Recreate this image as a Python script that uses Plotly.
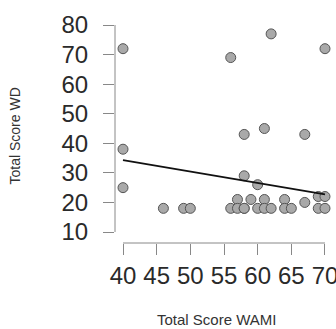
import plotly.graph_objects as go

# Data
wami = [40, 40, 40, 46, 49, 50, 56, 56, 57, 57, 58, 58, 58, 58, 59, 60, 60, 61, 61, 61,
        62, 62, 64, 64, 65, 67, 67, 69, 69, 70, 70, 70]
wd = [72, 38, 25, 18, 18, 18, 69, 18, 21, 18, 43, 29, 18, 18, 21, 26, 18, 45, 21, 18,
      77, 18, 21, 18, 18, 43, 20, 22, 18, 72, 22, 18]
fit_x = [40, 70]
fit_y = [34.3, 22.7]
x_ticks = [40, 45, 50, 55, 60, 65, 70]
y_ticks = [10, 20, 30, 40, 50, 60, 70, 80]

FONT = "Liberation Sans, Arial, sans-serif"

fig = go.Figure()
fig.add_trace(go.Scatter(
    x=wami, y=wd, mode="markers", cliponaxis=False,
    marker=dict(size=10, color="#a9a9a9", line=dict(color="#555555", width=1)),
    showlegend=False, hoverinfo="skip"))
fig.add_trace(go.Scatter(
    x=fit_x, y=fit_y, mode="lines", cliponaxis=False,
    line=dict(color="#111111", width=1.8),
    showlegend=False, hoverinfo="skip"))

axis_col = "#888888"
# detached R-style axis lines
fig.add_shape(type="line", xref="paper", yref="y", x0=0, x1=0,
              y0=min(y_ticks), y1=max(y_ticks), line=dict(color=axis_col, width=1))
fig.add_shape(type="line", xref="x", yref="paper", x0=min(x_ticks), x1=max(x_ticks),
              y0=0, y1=0, line=dict(color=axis_col, width=1))

fig.update_xaxes(range=[38.812, 71.635], tickvals=x_ticks, ticks="outside", ticklen=11,
                 tickcolor=axis_col, tickwidth=1, showline=False, showgrid=False,
                 zeroline=False, tickfont=dict(family=FONT, size=24, color="#2a2a2a"),
                 ticklabelstandoff=0, ticklabeloverflow="allow", automargin=False)
fig.update_yaxes(range=[6.28, 83.39], tickvals=y_ticks, ticks="outside", ticklen=11,
                 tickcolor=axis_col, tickwidth=1, showline=False, showgrid=False,
                 zeroline=False, tickfont=dict(family=FONT, size=24, color="#2a2a2a"),
                 ticklabelstandoff=10, ticklabeloverflow="allow", automargin=False)

fig.add_annotation(text="Total Score WAMI", xref="paper", yref="paper",
                   x=0.4615, y=-0.3377, showarrow=False,
                   font=dict(family=FONT, size=15, color="#333333"),
                   xanchor="center", yanchor="middle")
fig.add_annotation(text="Total Score WD", xref="paper", yref="paper",
                   x=-0.448, y=0.4715, showarrow=False, textangle=-90,
                   font=dict(family=FONT, size=14, color="#333333"),
                   xanchor="center", yanchor="middle")

fig.update_layout(width=336, height=329,
                  margin=dict(l=115, r=0, t=15, b=86),
                  paper_bgcolor="white", plot_bgcolor="white")

fig.write_html("out.html", config={"displayModeBar": False},
               post_script="document.body.style.margin='0';document.body.style.overflow='hidden';")
